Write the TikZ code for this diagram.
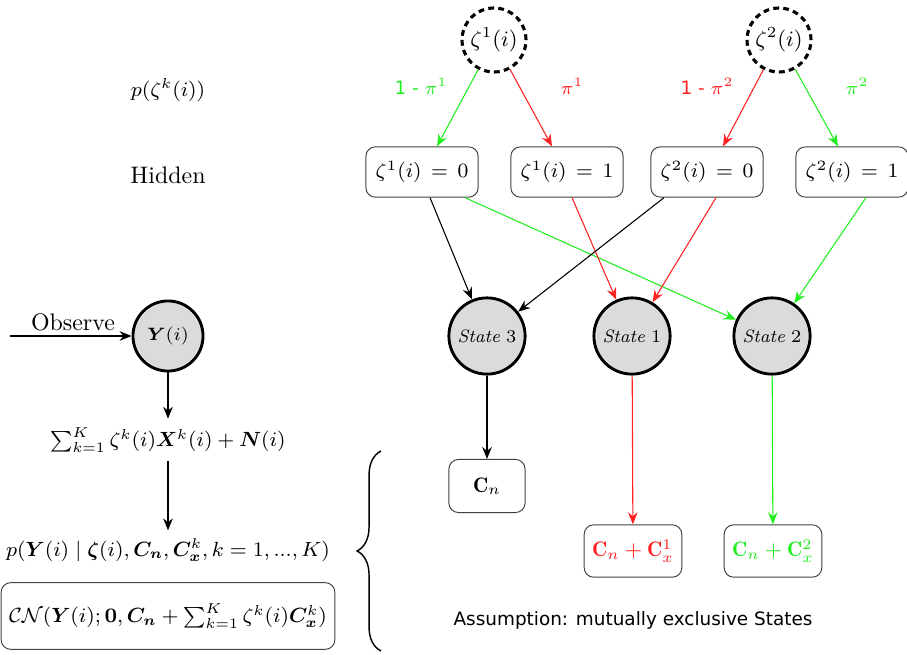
\RequirePackage{fix-cm}
\documentclass[tikz,border=0pt]{standalone}
\usepackage{amsmath, amssymb, bm}
\usepackage{fontspec}
\newfontfamily\labelsans{DejaVu Sans}
\usetikzlibrary{positioning, arrows.meta, calc, decorations.pathreplacing}
\definecolor{probgreen}{HTML}{22EE22}
\definecolor{probred}{HTML}{FF2222}

\begin{document}
\begin{tikzpicture}[
    x=0.0147cm, y=-0.0147cm,
    latent/.style={circle, draw, dashed, dash pattern=on 2.4pt off 1.8pt,
                   line width=1.3pt, minimum size=0.94cm, inner sep=0pt,
                   font=\fontsize{9.2}{11}\selectfont},
    hidbox/.style={rectangle, draw=black!75, rounded corners=4pt,
                   minimum width=1.65cm, minimum height=0.74cm,
                   font=\fontsize{8.5}{10}\selectfont},
    statenode/.style={circle, draw, fill=black!14, line width=1.2pt,
                      minimum size=1.12cm, inner sep=0pt,
                      font=\fontsize{7.5}{9}\selectfont},
    covbox/.style={rectangle, draw=black!75, rounded corners=4pt,
                   minimum height=0.77cm, font=\fontsize{8.8}{10}\selectfont},
    formula/.style={font=\fontsize{8.6}{10}\selectfont},
    arrow/.style={-{Stealth[length=5pt, width=4pt]}, line width=0.45pt},
    plbl/.style={font=\fontsize{7.7}{9}\selectfont\labelsans}
  ]
    \useasboundingbox (0,0) rectangle (907,654);

    % latent variables
    \node[latent] (z1) at (494,40) {$\zeta^1(i)$};
    \node[latent] (z2) at (779,40) {$\zeta^2(i)$};

    \node[formula] (pz) at (168,90) {$p(\zeta^k(i))$};
    \node[plbl, text=probgreen] (l1) at (421,86) {1 - $\pi^1$};
    \node[plbl, text=probred]   (l2) at (572,86) {$\pi^1$};
    \node[plbl, text=probred]   (l3) at (707,86) {1 - $\pi^2$};
    \node[plbl, text=probgreen] (l4) at (857,86) {$\pi^2$};

    % hidden states
    \node (hid) at (168,175) {Hidden};
    \node[hidbox] (h10) at (422,172) {$\zeta^1(i) \,=\, 0$};
    \node[hidbox] (h11) at (567,172) {$\zeta^1(i) \,=\, 1$};
    \node[hidbox] (h20) at (707,172) {$\zeta^2(i) \,=\, 0$};
    \node[hidbox] (h21) at (852,172) {$\zeta^2(i) \,=\, 1$};

    % states
    \node[statenode] (s3) at (487,336) {$\mathit{State}\ 3$};
    \node[statenode] (s1) at (632,336) {$\mathit{State}\ 1$};
    \node[statenode] (s2) at (772,336) {$\mathit{State}\ 2$};

    % observation side
    \coordinate (obsin) at (10,336);
    \node[statenode, minimum size=1.03cm] (y) at (168,336) {$\bm{Y}(i)$};
    \node (obs) at (73,322) {Observe};
    \node[formula] (sum) at (168,440)
          {$\sum_{k=1}^{K}\zeta^k(i)\bm{X}^k(i)+\bm{N}(i)$};
    \node[formula] (py) at (168,550)
          {$p(\bm{Y}(i)\mid\bm{\zeta}(i),\bm{C_n},\bm{C}_{\bm{x}}^k,k=1,...,K)$};
    \node[covbox, formula, minimum width=4.65cm, minimum height=0.98cm] (cn) at (168,616)
          {$\mathcal{CN}(\bm{Y}(i);\bm{0},\bm{C_n}+\sum_{k=1}^{K}\zeta^k(i)\bm{C}_{\bm{x}}^k)$};

    % covariances
    \node[covbox, minimum width=1.12cm, minimum height=0.78cm] (c3) at (487,486)
          {$\mathbf{C}_n$};
    \node[covbox, minimum width=1.41cm, text=probred] (c1) at (633,551)
          {$\mathbf{C}_n+\mathbf{C}_x^1$};
    \node[covbox, minimum width=1.41cm, text=probgreen] (c2) at (773,551)
          {$\mathbf{C}_n+\mathbf{C}_x^2$};
    \node[plbl] (assume) at (633,620) {Assumption: mutually exclusive States};

    \draw[decorate, decoration={brace, amplitude=10pt}, line width=0.6pt]
          (381,651) -- (381,451);

    % edges
    \draw[arrow, probgreen] (z1) -- ($(h10.north)+(15,0)$);
    \draw[arrow, probred]   (z1) -- ($(h11.north)+(-15,0)$);
    \draw[arrow, probred]   (z2) -- ($(h20.north)+(16,0)$);
    \draw[arrow, probgreen] (z2) -- ($(h21.north)+(-14,0)$);

    \draw[arrow] ($(h10.south)+(8,0)$) -- (s3);
    \draw[arrow, probgreen] ($(h10.south)+(43,0)$) -- (s2);
    \draw[arrow, probred] ($(h11.south)+(5,0)$) -- (s1);
    \draw[arrow] ($(h20.south)+(-43,0)$) -- (s3);
    \draw[arrow, probred] ($(h20.south)+(9,0)$) -- (s1);
    \draw[arrow, probgreen] ($(h21.south)+(14,0)$) -- (s2);

    \draw[arrow] (s3) -- (c3);
    \draw[arrow, probred] (s1) -- (c1);
    \draw[arrow, probgreen] (s2) -- (c2);

    \draw[arrow] (obsin) -- (y);
    \draw[arrow] (y) -- (sum);
    \draw[arrow] (sum) -- (py);
  \end{tikzpicture}
\end{document}
